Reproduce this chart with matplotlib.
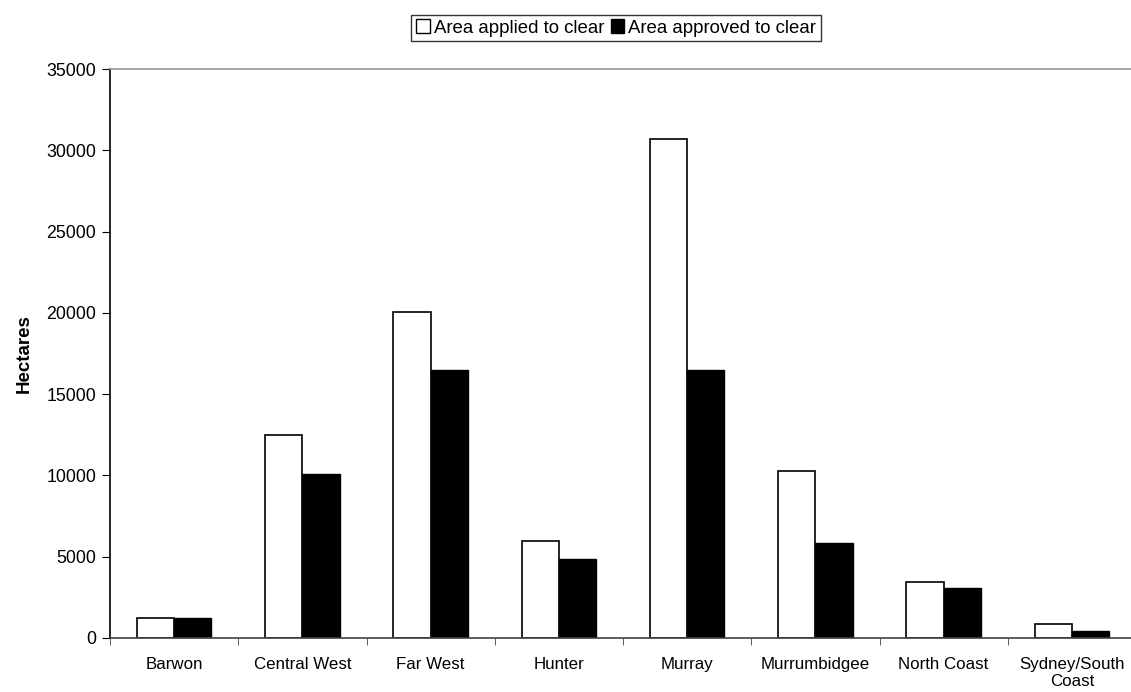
import matplotlib

matplotlib.use("Agg")
import matplotlib.pyplot as plt
import numpy as np
from matplotlib.patches import Patch

plt.rcParams["font.family"] = ["Liberation Sans", "DejaVu Sans"]

REGIONS = ["Barwon", "Central West", "Far West", "Hunter", "Murray",
           "Murrumbidgee", "North Coast", "Sydney/South\nCoast"]
APPLIED = [1230, 12480, 20080, 5950, 30670, 10280, 3460, 840]
APPROVED = [1200, 10100, 16470, 4870, 16470, 5860, 3080, 410]
Y_TICKS = [0, 5000, 10000, 15000, 20000, 25000, 30000, 35000]

W, H = 1131, 692
fig = plt.figure(figsize=(W / 100, H / 100), dpi=100)
# plot area runs slightly past the right edge of the image, as in the source
ax = fig.add_axes([110 / W, 54 / H, 1026 / W, 569 / H])

x = np.arange(len(REGIONS))
bw = 0.29
ax.bar(x - bw / 2, APPLIED, bw, facecolor="white", edgecolor="black", linewidth=1.2)
ax.bar(x + bw / 2, APPROVED, bw, facecolor="black", edgecolor="black", linewidth=1.0)

ax.set_xlim(-0.5, len(REGIONS) - 0.5)
ax.set_ylim(0, 35000)
ax.set_yticks(Y_TICKS)
ax.set_yticklabels([str(v) for v in Y_TICKS], fontsize=12.8)

ax.set_xticks(x)
ax.set_xticklabels(REGIONS, fontsize=12.2, linespacing=1.1)
ax.tick_params(axis="x", length=0, pad=14)
ax.set_xticks(np.arange(len(REGIONS) + 1) - 0.5, minor=True)
ax.tick_params(axis="x", which="minor", length=5, direction="out", color="#404040")
ax.tick_params(axis="y", length=6, direction="out", pad=4)

ax.spines["left"].set_color("black")
ax.spines["bottom"].set_color("#404040")
ax.spines["top"].set_color("#999999")
ax.spines["right"].set_color("#999999")
for s in ax.spines.values():
    s.set_linewidth(1.2)

ax.set_ylabel("Hectares", fontsize=13.5, fontweight="bold", labelpad=10)

handles = [Patch(facecolor="white", edgecolor="black", label="Area applied to clear"),
           Patch(facecolor="black", edgecolor="black", label="Area approved to clear")]
leg = fig.legend(handles=handles, loc="center", bbox_to_anchor=(616 / W, 1 - 28 / H),
                 ncol=2, fontsize=13.4, frameon=True, fancybox=False,
                 handlelength=0.75, handleheight=0.75, handletextpad=0.2,
                 columnspacing=0.35, borderpad=0.25, borderaxespad=0)
leg.get_frame().set_edgecolor("black")
leg.get_frame().set_linewidth(1.0)

fig.savefig("out.png", dpi=100)
